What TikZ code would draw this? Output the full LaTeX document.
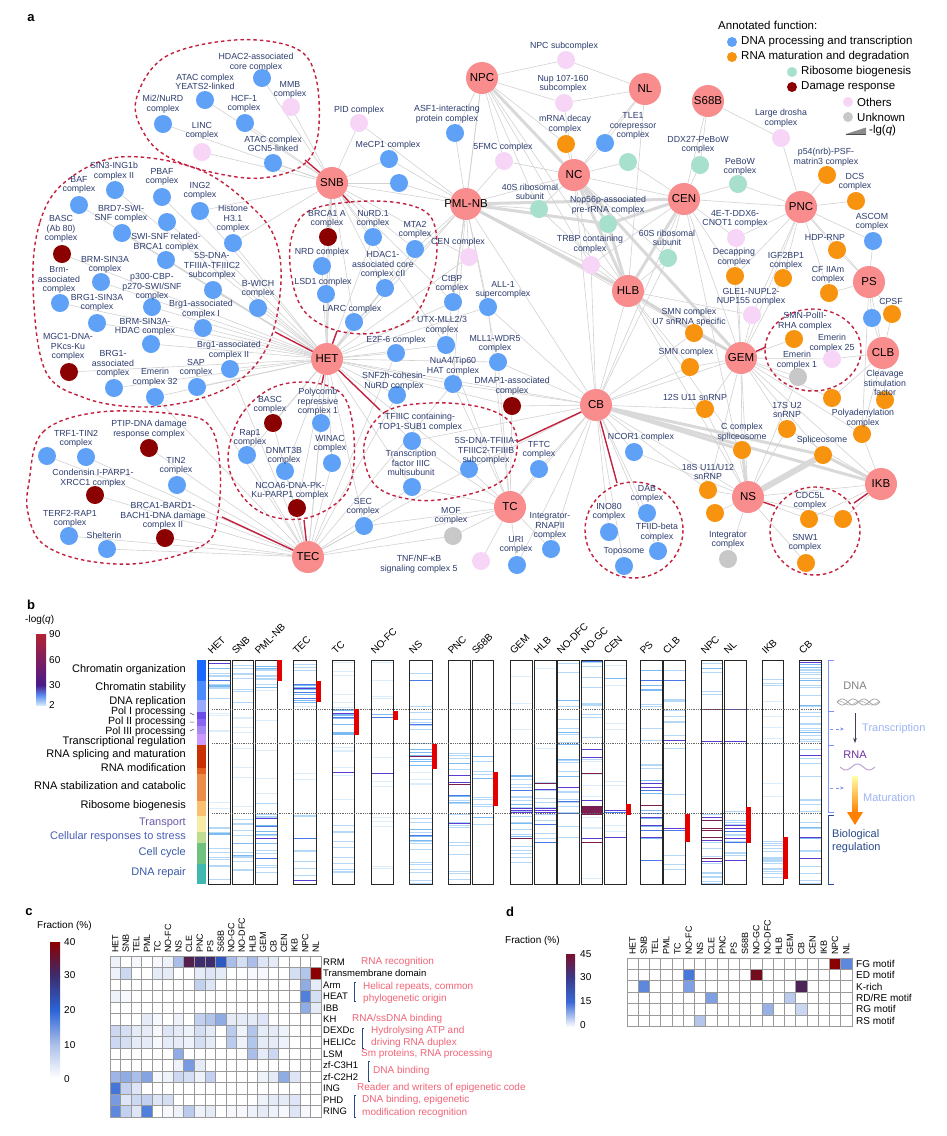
\documentclass[tikz,border=0pt]{standalone}
\usepackage{fontspec}
\setmainfont{Liberation Sans}
\usetikzlibrary{arrows.meta}
\definecolor{chub}{HTML}{F98C8C}
\definecolor{cblue}{HTML}{5EA1F7}
\definecolor{corange}{HTML}{F7930E}
\definecolor{cteal}{HTML}{A7E0CC}
\definecolor{cdred}{HTML}{8B0000}
\definecolor{cpink}{HTML}{F6D5F7}
\definecolor{cgray}{HTML}{C8C8C8}
\definecolor{clab}{HTML}{2D3C6E}
\definecolor{cedge}{HTML}{D2D2D2}
\definecolor{clink}{HTML}{C2213F}
\definecolor{hl1}{HTML}{DCEEFC}
\definecolor{hl2}{HTML}{B4D9F8}
\definecolor{hl3}{HTML}{7CBAF2}
\definecolor{hl4}{HTML}{4A78E6}
\definecolor{hp}{HTML}{5B3BD1}
\definecolor{hd}{HTML}{7A1F4F}
\definecolor{hA}{HTML}{AABEE9}
\definecolor{hB}{HTML}{2A64D6}
\definecolor{hC}{HTML}{3B2D6E}
\definecolor{hD}{HTML}{8B0000}
\definecolor{cann}{HTML}{F26477}
\definecolor{cbrk}{HTML}{2A4A8A}
\definecolor{gridc}{HTML}{9A9A9A}
\definecolor{ctr}{HTML}{9DB5F5}
\definecolor{crna}{HTML}{7030A0}
\definecolor{carr}{HTML}{4A3A5A}
\definecolor{cbr}{HTML}{B22234}
\definecolor{cbp}{HTML}{4A1A8A}
\definecolor{cbb}{HTML}{5A8AF0}
\definecolor{cbw}{HTML}{CFE8FB}
\definecolor{ctp}{HTML}{6E5AA8}
\definecolor{ccr}{HTML}{4A60B4}
\definecolor{ccc}{HTML}{3A5AA8}
\definecolor{dA}{HTML}{7A1030}
\definecolor{dB}{HTML}{3A3A8A}
\definecolor{dC}{HTML}{3A6AD8}
\pgfdeclarelayer{back}\pgfdeclarelayer{bg}\pgfdeclarelayer{mid}\pgfsetlayers{back,bg,mid,main}
\tikzset{
 sm/.style={circle,minimum size=18pt,inner sep=0pt},
 nb/.style={sm,fill=cblue}, no/.style={sm,fill=corange}, nt/.style={sm,fill=cteal},
 nr/.style={sm,fill=cdred}, np/.style={sm,fill=cpink}, ng/.style={sm,fill=cgray},
 hubc/.style={circle,minimum size=32pt,inner sep=0pt,fill=chub},
 hubt/.style={font=\fontsize{11.5}{12}\selectfont,text=black,inner sep=0pt},
 lab/.style={font=\fontsize{8.8}{9.6}\selectfont,text=clab,align=center,inner sep=0pt},
 edge/.style={draw=cedge,line width=0.6pt},
 tedge/.style={draw=black!15,line width=3pt},
 vedge/.style={draw=black!15,line width=6pt},
 link/.style={draw=clink,line width=1.4pt},
 clus/.style={draw=clink,dash pattern=on 3.5pt off 3pt,line width=1.4pt},
 blab/.style={font=\fontsize{11}{12}\selectfont,anchor=east,inner sep=0pt},
 leg/.style={font=\fontsize{11.5}{12}\selectfont,anchor=west,inner sep=0pt},
 panel/.style={font=\fontsize{13}{13}\selectfont\bfseries,inner sep=0pt},
 small/.style={font=\fontsize{10}{11}\selectfont,inner sep=0pt},
}
\newcommand\mynd[4]{\node[#4] (#1) at (#2,#3) {};}
\newcommand\mylb[4]{\node[lab] (#1l) at (#2,#3) {#4};}
\newcommand\myhub[4]{\node[hubc] (#1) at (#2,#3) {};\node[hubt] at (#2,#3) {#4};}
\newcommand\setheat[1]{%
 \pgfmathtruncatemacro\hk{min(3,floor((#1)/10))}%
 \pgfmathtruncatemacro\hq{((#1)-10*\hk)*10}%
 \ifcase\hk \colorlet{hcol}{hA!\hq!white}\or \colorlet{hcol}{hB!\hq!hA}\or \colorlet{hcol}{hC!\hq!hB}\or \colorlet{hcol}{hD!\hq!hC}\fi}
\newcommand\crow[2]{\foreach \v [count=\j from 0] in {#2} {\setheat{\v}\filldraw[fill=hcol,draw=gridc,line width=0.8pt] ({110+\j*10.55},{956+#1*11.5}) rectangle ++(10.55,11.5);}}
\newcommand\drow[2]{\foreach \v [count=\j from 0] in {#2} {\setheat{\v*40/45}\filldraw[fill=hcol,draw=gridc,line width=0.8pt] ({627+\j*11.25},{958+#1*11.4}) rectangle ++(11.25,11.4);}}
\newcommand\stp[3]{\foreach \ya/\yb/\nn/\cc in {#3}{\foreach \ii in {1,...,\nn}{\pgfmathsetmacro\yy{\ya+rnd*(\yb-\ya)}\draw[color=\cc,line width=0.9pt] (#1,\yy)--(#2,\yy);}}}
\newcommand\fxs[3]{\foreach \yy/\cc in {#3}{\draw[color=\cc,line width=1pt] (#1,\yy)--(#2,\yy);}}
\begin{document}
\begin{tikzpicture}[x=1pt,y=-1pt]
\path[use as bounding box] (0,0) rectangle (947,1136);
\begin{pgfonlayer}{back}\fill[white] (0,0) rectangle (947,1136);\end{pgfonlayer}
\pgfmathsetseed{11}
% ================= PANEL A =================
\node[panel] (pa) at (31,18) {a};
\myhub{SNB}{332}{183}{SNB}
\myhub{PML}{466}{204}{PML-NB}
\myhub{HET}{327}{359}{HET}
\myhub{TEC}{308}{557}{TEC}
\myhub{NPC}{482}{78}{NPC}
\myhub{NL}{645}{89}{NL}
\myhub{S68B}{708}{101}{S68B}
\myhub{NC}{574}{175}{NC}
\myhub{CEN}{684}{199}{CEN}
\myhub{PNC}{801}{207}{PNC}
\myhub{PS}{869}{282}{PS}
\myhub{HLB}{628}{291}{HLB}
\myhub{GEM}{741}{358}{GEM}
\myhub{CLB}{883}{353}{CLB}
\myhub{CB}{596}{405}{CB}
\myhub{TC}{510}{507}{TC}
\myhub{NS}{748}{497}{NS}
\myhub{IKB}{881}{484}{IKB}
\mynd{c1a}{262}{78}{nb}\mynd{c1b}{205}{100}{nb}\mynd{c1c}{163}{124}{nb}\mynd{c1d}{245}{123}{nb}
\mynd{c1e}{291}{107}{np}\mynd{c1f}{202}{152}{np}\mynd{c1g}{273}{163}{nb}
\mynd{PID}{359}{123}{np}\mynd{MeCP}{389}{159}{nb}\mynd{u1}{399}{183}{nb}\mynd{ASF}{455}{133}{nb}
\mynd{BAF}{79}{205}{nb}\mynd{SIN}{115}{190}{nb}\mynd{PBAF}{162}{197}{nb}\mynd{ING}{200}{211}{nb}
\mynd{u2}{167}{222}{nb}\mynd{BRD}{122}{233}{nb}\mynd{H31}{233}{243}{nb}\mynd{BA80}{62}{254}{nr}
\mynd{SWIr}{166}{260}{nb}\mynd{BRMS}{101}{282}{nb}\mynd{Brm}{60}{303}{nb}\mynd{BRGS}{97}{323}{nb}
\mynd{p300}{152}{307}{nb}\mynd{S5a}{213}{290}{nb}\mynd{BWI}{258}{308}{nb}\mynd{BgI}{203}{328}{nb}
\mynd{BRMH}{151}{344}{nb}\mynd{MGC}{69}{372}{nr}\mynd{BRGa}{114}{388}{nb}\mynd{E32}{155}{397}{nb}
\mynd{SAP}{197}{387}{nb}\mynd{BgII}{230}{369}{nb}
\mynd{BRA}{328}{237}{nr}\mynd{NuR}{373}{237}{nb}\mynd{MTA}{415}{249}{nb}\mynd{NRD}{322}{266}{nb}
\mynd{HD1}{385}{288}{nb}\mynd{LSD}{326}{294}{nb}\mynd{LARC}{354}{322}{nb}
\mynd{CENc}{469}{257}{np}\mynd{CtBP}{453}{302}{nb}\mynd{UTX}{446}{345}{nb}\mynd{E2F}{396}{353}{nb}
\mynd{NuA}{453}{384}{nb}\mynd{SNF}{397}{395}{nb}\mynd{ALL}{488}{307}{nb}\mynd{MLL}{498}{362}{nb}
\mynd{DMAP}{512}{406}{nr}
\mynd{TF3C}{412}{441}{nb}\mynd{TF3M}{412}{487}{nb}\mynd{S5b}{469}{469}{nb}
\mynd{BASC}{273}{423}{nr}\mynd{PRC}{321}{423}{nb}\mynd{Rap}{247}{455}{nb}\mynd{WIN}{332}{463}{nb}
\mynd{DNM}{285}{471}{nb}\mynd{NCO}{297}{508}{nr}
\mynd{TRF}{86}{457}{nb}\mynd{u6}{47}{456}{nb}\mynd{PTIP}{149}{448}{nr}\mynd{TIN}{177}{485}{nb}
\mynd{Cond}{95}{495}{nr}\mynd{TERF}{69}{536}{nb}\mynd{BRCB}{165}{538}{nr}\mynd{Shel}{107}{549}{nb}
\mynd{SEC}{364}{526}{nb}\mynd{MOF}{453}{536}{ng}\mynd{TNF}{481}{561}{np}
\mynd{NPCs}{566}{60}{np}\mynd{Nup}{564}{103}{np}\mynd{mRNA}{566}{144}{no}\mynd{TLE}{605}{143}{nb}
\mynd{t1}{628}{162}{nt}\mynd{FMC}{504}{161}{np}\mynd{DDX}{700}{165}{nt}\mynd{PeB}{738}{184}{nt}
\mynd{Dro}{781}{138}{np}\mynd{p54}{827}{175}{no}\mynd{DCS}{856}{201}{no}\mynd{S40}{539}{209}{nt}
\mynd{Nop}{608}{224}{nt}\mynd{ASC}{873}{241}{nb}\mynd{HDP}{837}{250}{no}\mynd{ET4}{736}{238}{np}
\mynd{S60}{668}{258}{nt}\mynd{TRBP}{591}{265}{np}\mynd{Dec}{735}{276}{no}\mynd{IGF}{783}{278}{no}
\mynd{CFII}{829}{293}{no}\mynd{GLE}{752}{315}{np}\mynd{CPSF}{892}{314}{no}\mynd{b9}{872}{318}{nb}
\mynd{SU7}{694}{333}{no}\mynd{SMP}{794}{339}{no}\mynd{E25}{832}{359}{np}\mynd{E1}{798}{377}{ng}
\mynd{CSF}{885}{400}{no}\mynd{SMN}{690}{367}{no}\mynd{S12}{705}{409}{no}\mynd{S17}{787}{429}{no}
\mynd{o1}{832}{398}{no}\mynd{PolA}{862}{434}{no}\mynd{Ccx}{742}{450}{no}\mynd{Spl}{823}{455}{no}
\mynd{NCOR}{634}{452}{nb}\mynd{TFTC}{539}{469}{nb}\mynd{S18}{708}{490}{no}\mynd{o2}{715}{513}{no}
\mynd{Int}{728}{559}{ng}\mynd{IntR}{551}{549}{nb}\mynd{URI}{517}{565}{nb}
\mynd{INO}{609}{532}{nb}\mynd{DAB}{647}{513}{nb}\mynd{TFD}{658}{551}{nb}\mynd{Topo}{624}{566}{nb}
\mynd{CDC}{809}{519}{no}\mynd{o3}{843}{519}{no}\mynd{SNW}{806}{563}{no}
% edges
\begin{pgfonlayer}{bg}
\foreach \a/\b in {PML/CEN,PML/Nop,NC/HLB,NC/GEM,CEN/HLB,CEN/Nop,CB/IKB,CB/Spl,GEM/HLB,NPC/NC,NC/Nop,IKB/Spl,Ccx/NS,CB/Ccx,HLB/Nop,PML/HLB}
 \draw[tedge] (\a)--(\b);
\draw[vedge] (NS)--(Spl);
\foreach \a/\b in {SNB/c1a,SNB/c1b,SNB/c1c,SNB/c1d,SNB/c1e,SNB/c1f,SNB/c1g,SNB/PID,SNB/MeCP,SNB/u1,SNB/PML,SNB/BRA,SNB/NuR,SNB/MTA,SNB/NRD,SNB/HD1,SNB/LSD,SNB/LARC,SNB/HET,SNB/CtBP,SNB/UTX,SNB/CENc,SNB/H31,SNB/ING,
PML/u1,PML/MeCP,PML/ASF,PML/FMC,PML/NPC,PML/NC,PML/S40,PML/CENc,PML/CtBP,PML/ALL,PML/MLL,PML/GEM,PML/CB,PML/NuA,PML/MTA,PML/HD1,PML/UTX,PML/TRBP,PML/PID,
HET/BAF,HET/SIN,HET/PBAF,HET/ING,HET/u2,HET/BRD,HET/H31,HET/BA80,HET/SWIr,HET/BRMS,HET/Brm,HET/BRGS,HET/p300,HET/S5a,HET/BWI,HET/BgI,HET/BRMH,HET/MGC,HET/BRGa,HET/E32,HET/SAP,HET/BgII,HET/BRA,HET/NuR,HET/MTA,HET/NRD,HET/HD1,HET/LSD,HET/LARC,HET/E2F,HET/SNF,HET/NuA,HET/UTX,HET/CtBP,HET/CENc,HET/MLL,HET/BASC,HET/PRC,HET/Rap,HET/WIN,HET/DNM,HET/NCO,HET/TF3C,HET/TF3M,HET/S5b,HET/SEC,HET/TEC,HET/CB,HET/DMAP,HET/PML,HET/ALL,
TEC/TRF,TEC/u6,TEC/PTIP,TEC/TIN,TEC/Cond,TEC/TERF,TEC/BRCB,TEC/Shel,TEC/BASC,TEC/PRC,TEC/Rap,TEC/WIN,TEC/DNM,TEC/NCO,TEC/SEC,TEC/MOF,TEC/TF3M,TEC/S5b,TEC/SNF,TEC/E2F,TEC/E32,TEC/SAP,TEC/BgII,TEC/TC,TEC/NuA,
TC/TFTC,TC/URI,TC/IntR,TC/TNF,TC/MOF,TC/SEC,TC/S5b,TC/TF3M,TC/MLL,TC/ALL,TC/CB,TC/NuA,TC/DMAP,TC/UTX,TC/TF3C,
CB/TFTC,CB/NCOR,CB/INO,CB/DAB,CB/TFD,CB/Topo,CB/S12,CB/NS,CB/GEM,CB/SMN,CB/DMAP,CB/MLL,CB/ALL,CB/NuA,CB/S5b,CB/TF3C,CB/TRBP,CB/S60,CB/S18,CB/URI,CB/IntR,CB/SU7,CB/NC,
NS/S17,NS/S18,NS/o2,NS/Int,NS/GEM,NS/IKB,NS/CDC,NS/SNW,NS/o3,NS/S12,NS/NCOR,NS/E1,
IKB/o3,IKB/CDC,IKB/PolA,IKB/S17,IKB/GEM,
GEM/SU7,GEM/SMN,GEM/CEN,GEM/S12,GEM/Ccx,GEM/S17,GEM/Spl,GEM/SMP,GEM/E1,GEM/E25,GEM/GLE,GEM/Dec,GEM/o1,GEM/S18,GEM/PolA,GEM/PNC,GEM/IGF,GEM/ET4,GEM/HLB,
HLB/SU7,HLB/SMN,HLB/TRBP,HLB/S60,HLB/S40,HLB/CB,HLB/NPC,HLB/NL,HLB/Ccx,HLB/NS,HLB/GLE,
NC/mRNA,NC/TLE,NC/t1,NC/S40,NC/FMC,NC/CEN,NC/TRBP,NC/S60,NC/Nup,NC/NL,
NPC/NPCs,NPC/Nup,NPC/mRNA,NPC/FMC,NPC/ASF,NPC/TRBP,NPC/S40,NPC/CtBP,
NL/NPCs,NL/Nup,NL/TLE,S68B/CEN,S68B/Dro,S68B/DDX,
CEN/DDX,CEN/PeB,CEN/S60,CEN/ET4,CEN/Dec,CEN/TRBP,CEN/t1,CEN/PNC,CEN/CB,CEN/NS,
PNC/p54,PNC/DCS,PNC/ASC,PNC/HDP,PNC/IGF,PNC/CFII,PNC/Dec,PNC/ET4,PNC/Dro,PNC/PS,PNC/PeB,PNC/GLE,
PS/ASC,PS/CFII,PS/CPSF,PS/b9,PS/CLB,PS/HDP,PS/PolA,
CLB/CPSF,CLB/b9,CLB/CSF,CLB/PolA,CLB/o1,CLB/E25}
 \draw[edge] (\a)--(\b);
\end{pgfonlayer}
\begin{pgfonlayer}{mid}
\draw[clus] plot[smooth cycle,tension=0.6] coordinates {(136,100) (165,57) (235,40) (295,48) (316,78) (318,135) (303,165) (262,178) (215,173) (170,158) (145,135)};
\draw[clus] plot[smooth cycle,tension=0.6] coordinates {(33,285) (40,222) (65,182) (120,157) (200,170) (257,212) (278,248) (280,295) (268,345) (240,380) (195,400) (140,407) (85,398) (45,370)};
\draw[clus] plot[smooth cycle,tension=0.6] coordinates {(291,240) (307,212) (350,202) (400,203) (430,216) (437,248) (430,285) (412,318) (375,333) (335,330) (305,312) (292,280)};
\draw[clus] plot[smooth cycle,tension=0.6] coordinates {(364,445) (385,412) (430,403) (480,407) (510,422) (517,450) (503,480) (462,496) (415,500) (375,485)};
\draw[clus] plot[smooth cycle,tension=0.6] coordinates {(228,458) (240,417) (268,390) (302,382) (337,390) (351,415) (354,463) (343,497) (307,518) (267,515) (240,493)};
\draw[clus] plot[smooth cycle,tension=0.6] coordinates {(29,482) (43,432) (100,412) (183,415) (211,428) (220,467) (218,513) (205,544) (143,563) (83,560) (42,543) (28,513)};
\draw[clus] (634,530) ellipse [x radius=49,y radius=48];
\draw[clus] (815,531) ellipse [x radius=45,y radius=44];
\draw[clus] (813,350) ellipse [x radius=48,y radius=41];
\end{pgfonlayer}
\coordinate (k1) at (305,160);\coordinate (k2) at (350,203);\coordinate (k3) at (275,332);
\coordinate (k4) at (337,331);\coordinate (k5) at (322,383);\coordinate (k6) at (380,410);
\coordinate (k7) at (222,517);\coordinate (k8) at (304,520);\coordinate (k9) at (517,442);
\coordinate (k10) at (617,483);\coordinate (k11) at (766,347);\coordinate (k12) at (775,506);
\coordinate (k13) at (854,503);
\foreach \h/\k in {SNB/k1,SNB/k2,HET/k3,HET/k4,HET/k5,HET/k6,TEC/k7,TEC/k8,CB/k9,CB/k10,GEM/k11,NS/k12,IKB/k13}
 \draw[link] (\h)--(\k);
% labels
\mylb{c1a}{256}{62}{HDAC2-associated\\core complex}
\mylb{c1b}{205}{82}{ATAC complex\\YEATS2-linked}
\mylb{c1c}{163}{104}{Mi2/NuRD\\complex}
\mylb{c1d}{244}{104}{HCF-1\\complex}
\mylb{c1e}{290}{90}{MMB\\complex}
\mylb{c1f}{202}{131}{LINC\\complex}
\mylb{c1g}{273}{144}{ATAC complex\\GCN5-linked}
\mylb{PID}{359}{110}{PID complex}
\mylb{MeCP}{388}{145}{MeCP1 complex}
\mylb{ASF}{447}{114}{ASF1-interacting\\protein complex}
\mylb{BAF}{79}{185}{BAF\\complex}
\mylb{SIN}{114}{171}{SIN3-ING1b\\complex II}
\mylb{PBAF}{162}{177}{PBAF\\complex}
\mylb{ING}{200}{191}{ING2\\complex}
\mylb{BRD}{121}{214}{BRD7-SWI-\\SNF complex}
\mylb{H31}{233}{219}{Histone\\H3.1\\complex}
\mylb{BA80}{61}{229}{BASC\\(Ab 80)\\complex}
\mylb{SWIr}{166}{242}{SWI-SNF related-\\BRCA1 complex}
\mylb{BRMS}{105}{265}{BRM-SIN3A\\complex}
\mylb{Brm}{59}{280}{Brm-\\associated\\complex}
\mylb{BRGS}{97}{303}{BRG1-SIN3A\\complex}
\mylb{p300}{152}{287}{p300-CBP-\\p270-SWI/SNF\\complex}
\mylb{S5a}{212}{266}{5S-DNA-\\TFIIIA-TFIIIC2\\subcomplex}
\mylb{BWI}{258}{289}{B-WICH\\complex}
\mylb{BgI}{201}{309}{Brg1-associated\\complex I}
\mylb{BRMH}{145}{327}{BRM-SIN3A-\\HDAC complex}
\mylb{MGC}{68}{347}{MGC1-DNA-\\PKcs-Ku\\complex}
\mylb{BRGa}{113}{364}{BRG1-\\associated\\complex}
\mylb{E32}{155}{377}{Emerin\\complex 32}
\mylb{SAP}{196}{368}{SAP\\complex}
\mylb{BgII}{229}{350}{Brg1-associated\\complex II}
\mylb{BRA}{327}{219}{BRCA1 A\\complex}
\mylb{NuR}{373}{219}{NuRD.1\\complex}
\mylb{MTA}{415}{230}{MTA2\\complex}
\mylb{NRD}{322}{252}{NRD complex}
\mylb{HD1}{383}{265}{HDAC1-\\associated core\\complex cII}
\mylb{LSD}{323}{282}{LSD1 complex}
\mylb{LARC}{352}{309}{LARC complex}
\mylb{CENc}{458}{242}{CEN complex}
\mylb{CtBP}{452}{284}{CtBP\\complex}
\mylb{UTX}{442}{325}{UTX-MLL2/3\\complex}
\mylb{E2F}{396}{340}{E2F-6 complex}
\mylb{NuA}{453}{366}{NuA4/Tip60\\HAT complex}
\mylb{SNF}{394}{381}{SNF2h-cohesin-\\NuRD complex}
\mylb{ALL}{503}{290}{ALL-1\\supercomplex}
\mylb{MLL}{495}{344}{MLL1-WDR5\\complex}
\mylb{DMAP}{512}{386}{DMAP1-associated\\complex}
\mylb{TF3C}{420}{422}{TFIIIC containing-\\TOP1-SUB1 complex}
\mylb{TF3M}{411}{463}{Transcription\\factor IIIC\\multisubunit}
\mylb{S5b}{486}{451}{5S-DNA-TFIIIA-\\TFIIIC2-TFIIIB\\subcomplex}
\mylb{BASC}{270}{405}{BASC\\complex}
\mylb{PRC}{318}{402}{Polycomb\\repressive\\complex 1}
\mylb{Rap}{250}{438}{Rap1\\complex}
\mylb{WIN}{330}{444}{WINAC\\complex}
\mylb{DNM}{284}{456}{DNMT3B\\complex}
\mylb{NCO}{290}{491}{NCOA6-DNA-PK-\\Ku-PARP1 complex}
\mylb{TRF}{76}{439}{TRF1-TIN2\\complex}
\mylb{PTIP}{149}{429}{PTIP-DNA damage\\response complex}
\mylb{TIN}{176}{466}{TIN2\\complex}
\mylb{Cond}{93}{478}{Condensin I-PARP1-\\XRCC1 complex}
\mylb{TERF}{70}{519}{TERF2-RAP1\\complex}
\mylb{BRCB}{163}{516}{BRCA1-BARD1-\\BACH1-DNA damage\\complex II}
\mylb{Shel}{104}{535}{Shelterin}
\mylb{SEC}{363}{507}{SEC\\complex}
\mylb{MOF}{451}{516}{MOF\\complex}
\mylb{TNF}{419}{564}{TNF/NF-κB\\signaling complex 5}
\mylb{NPCs}{564}{46}{NPC subcomplex}
\mylb{Nup}{563}{84}{Nup 107-160\\subcomplex}
\mylb{mRNA}{565}{124}{mRNA decay\\complex}
\mylb{TLE}{633}{126}{TLE1\\corepressor\\complex}
\mylb{FMC}{503}{147}{5FMC complex}
\mylb{DDX}{698}{145}{DDX27-PeBoW\\complex}
\mylb{PeB}{740}{167}{PeBoW\\complex}
\mylb{Dro}{781}{118}{Large drosha\\complex}
\mylb{p54}{826}{157}{p54(nrb)-PSF-\\matrin3 complex}
\mylb{DCS}{855}{182}{DCS\\complex}
\mylb{S40}{530}{192}{40S ribosomal\\subunit}
\mylb{Nop}{608}{205}{Nop56p-associated\\pre-rRNA complex}
\mylb{ASC}{872}{222}{ASCOM\\complex}
\mylb{HDP}{825}{237}{HDP-RNP}
\mylb{ET4}{735}{219}{4E-T-DDX6-\\CNOT1 complex}
\mylb{S60}{667}{238}{60S ribosomal\\subunit}
\mylb{TRBP}{590}{244}{TRBP containing\\complex}
\mylb{Dec}{734}{257}{Decapping\\complex}
\mylb{IGF}{786}{261}{IGF2BP1\\complex}
\mylb{CFII}{828}{275}{CF IIAm\\complex}
\mylb{GLE}{751}{297}{GLE1-NUPL2-\\NUP155 complex}
\mylb{CPSF}{891}{301}{CPSF}
\mylb{SU7}{689}{317}{SMN complex\\U7 snRNA specific}
\mylb{SMP}{805}{321}{SMN-PolII-\\RHA complex}
\mylb{E25}{832}{343}{Emerin\\complex 25}
\mylb{E1}{797}{360}{Emerin\\complex 1}
\mylb{CSF}{885}{383}{Cleavage\\stimulation\\factor}
\mylb{SMN}{686}{352}{SMN complex}
\mylb{S12}{695}{397}{12S U11 snRNP}
\mylb{S17}{787}{410}{17S U2\\snRNP}
\mylb{PolA}{863}{418}{Polyadenylation\\complex}
\mylb{Ccx}{742}{432}{C complex\\spliceosome}
\mylb{Spl}{822}{440}{Spliceosome}
\mylb{NCOR}{641}{437}{NCOR1 complex}
\mylb{TFTC}{539}{450}{TFTC\\complex}
\mylb{S18}{708}{472}{18S U11/U12\\snRNP}
\mylb{Int}{728}{540}{Integrator\\complex}
\mylb{IntR}{550}{526}{Integrator-\\RNAPII\\complex}
\mylb{URI}{516}{545}{URI\\complex}
\mylb{INO}{609}{512}{INO80\\complex}
\mylb{DAB}{647}{494}{DAB\\complex}
\mylb{TFD}{657}{532}{TFIID-beta\\complex}
\mylb{Topo}{624}{551}{Toposome}
\mylb{CDC}{810}{501}{CDC5L\\complex}
\mylb{SNW}{805}{543}{SNW1\\complex}
% legend
\node[leg] (lg0) at (718,25) {Annotated function:};
\fill[cblue] (732,42) circle (5);\node[leg] (lg1) at (741,42) {DNA processing and transcription};
\fill[corange] (732,57) circle (5);\node[leg] (lg2) at (741,57) {RNA maturation and degradation};
\fill[cteal] (792,72) circle (5);\node[leg] (lg3) at (801,72) {Ribosome biogenesis};
\fill[cdred] (792,87) circle (5);\node[leg] (lg4) at (801,87) {Damage response};
\fill[cpink] (848,102) circle (5);\node[leg] (lg5) at (857,102) {Others};
\fill[cgray] (848,117) circle (5);\node[leg] (lg6) at (857,117) {Unknown};
\fill[black!45] (846,134) -- (866,134) -- (866,127.5) -- cycle;
\draw[black!70,line width=0.9pt] (846,134)--(866,134);
\node[leg] (lg7) at (869,131) {-lg(\textit{q})};
% ================= PANEL B =================
\node[panel] (pb) at (31,605) {b};
\node[small,anchor=west] (bq) at (25,620) {-log(\textit{q})};
\shade[top color=cbr,bottom color=cbp] (36,634) rectangle (46,685);
\shade[top color=cbp,bottom color=cbb] (36,685) rectangle (46,695);
\shade[top color=cbb,bottom color=cbw] (36,695) rectangle (46,705);
\node[small,anchor=west] at (49,634) {90};
\node[small,anchor=west] at (49,660) {60};
\node[small,anchor=west] at (49,685) {30};
\node[small,anchor=west] at (49,705) {2};
\foreach \ya/\yb/\cc in {660/681/1A6AFF,681/700/4D8CFF,700/712/9CAAFF,712/719/6A4CE8,719/726/8A66F0,726/734/A88AF5,734/745/CC99FF,745/768/C83200,768/774/E06020,774/801/EC8C4A,801/816/FAC070,816/832/F6ECA4,832/843/C0DC90,843/864/70C080,864/884/40B8B0}
 {\definecolor{tmpc}{HTML}{\cc}\fill[tmpc] (197,\ya) rectangle (206,\yb);}
\node[blab] at (186,670) {Chromatin organization};
\node[blab] at (186,688) {Chromatin stability};
\node[blab] at (186,701.5) {DNA replication};
\node[blab,font=\fontsize{10.5}{11}\selectfont] at (186,711.5) {Pol I processing};
\node[blab,font=\fontsize{10.5}{11}\selectfont] at (186,721.5) {Pol II processing};
\node[blab,font=\fontsize{10.5}{11}\selectfont] at (186,731.5) {Pol III processing};
\node[blab] at (186,742) {Transcriptional regulation};
\node[blab] at (186,755) {RNA splicing and maturation};
\node[blab] at (186,768) {RNA modification};
\node[blab] at (186,786) {RNA stabilization and catabolic};
\node[blab] at (186,806) {Ribosome biogenesis};
\node[blab,text=ctp] at (186,823) {Transport};
\node[blab,text=ccr] at (186,837) {Cellular responses to stress};
\node[blab,text=ccc] at (186,853) {Cell cycle};
\node[blab,text=ccc] at (186,873) {DNA repair};
\draw[black!70,line width=0.5pt] (190,713)--(194,715) (190,722)--(194,722) (190,731)--(194,729);
\foreach \xa/\xb/\nm in {208/230/HET,232/253/SNB,255/277/PML-NB,293/316/TEC,332/354/TC,371/393/NO-FC,409/432/NS,448/470/PNC,472/493/S68B,510/532/GEM,534/556/HLB,557/579/NO-DFC,581/602/NO-GC,604/626/CEN,640/662/PS,663/685/CLB,701/722/NPC,724/746/NL,762/783/IKB,799/821/CB}
 {\fill[white] (\xa,660) rectangle (\xb,884);
  \node[rotate=45,anchor=base west,font=\fontsize{10}{11}\selectfont,inner sep=0pt] at (\xa+4,655) {\nm};}
\stp{208}{230}{662/700/9/hl2,662/700/3/hl3,700/745/4/hl1,745/815/2/hl1,815/884/10/hl2,830/884/2/hl3}
\fxs{208}{230}{663/hp,680/hl4}
\stp{232}{253}{662/712/10/hl2,712/745/5/hl1,745/815/4/hl1,815/884/12/hl2,830/884/2/hl3}
\stp{255}{277}{662/690/10/hl2,662/690/3/hl3,690/815/5/hl1,800/884/14/hl2,815/850/4/hl3}
\fxs{255}{277}{818/hp,826/hl4,838/hp,858/hl4}
\stp{293}{316}{662/680/3/hl2,681/703/8/hl3,703/815/4/hl1,815/884/9/hl2}
\fxs{293}{316}{684/hl4,688/hp,692/hl4,698/hl4,838/hl4,880/hp}
\stp{332}{354}{662/709/6/hl1,709/735/12/hl3,735/815/6/hl1,815/884/11/hl2}
\fxs{332}{354}{713/hp,717/hl4,772/hp}
\stp{371}{393}{662/709/5/hl1,720/815/4/hl1,815/884/5/hl1}
\fxs{371}{393}{714/hl3,717/hl4,773/hp}
\stp{409}{432}{662/745/8/hl2,745/769/6/hl3,769/815/4/hl1,815/884/14/hl2,820/850/3/hl3}
\fxs{409}{432}{680/hl4,724/hl4,756/hd,835/hl4}
\stp{448}{470}{740/884/18/hl2,760/835/6/hl3}
\fxs{448}{470}{775/hp,782/hp,784/hd,795/hl4,823/hp}
\stp{472}{493}{755/830/9/hl2,755/830/3/hl3}
\stp{510}{532}{662/770/3/hl1,770/870/18/hl2,775/840/5/hl3}
\fxs{510}{532}{790/hl4,808/hp,810/hp,812/hp,838/hd}
\stp{534}{556}{662/770/2/hl1,775/840/10/hl2}
\fxs{534}{556}{783/hd,789/hp,808/hp,810/hp,812/hp,824/hl4,842/hl4}
\stp{557}{579}{662/860/20/hl2,700/850/5/hl3}
\fxs{557}{579}{787/hp,801/hl4,813/hl4}
\stp{581}{602}{662/760/12/hl2,760/884/8/hl1}
\fxs{581}{602}{661/hl4,749/hp,757/hp,773/hd,800/hp,838/hp,842/hd}
\fill[hd] (581,806) rectangle (602,815);
\stp{604}{626}{662/884/8/hl1}
\fxs{604}{626}{678/hl3,810/hp,812/hl4,837/hp}
\stp{640}{662}{662/700/4/hl3,700/800/10/hl2,780/840/10/hl3}
\fxs{640}{662}{680/hl4,783/hp,787/hp,790/hl4,805/hd,817/hp,825/hp,830/hl4,837/hp,860/hl4}
\stp{663}{685}{662/700/3/hl2,700/870/14/hl2}
\fxs{663}{685}{680/hl4,740/hp,828/hp,830/hl4}
\stp{701}{722}{662/700/4/hl2,800/884/12/hl2}
\fxs{701}{722}{668/hl3,709/hd,741/hp,817/hp,820/hd,828/hd,830/hd,837/hd,840/hp,858/hd,861/hp}
\stp{724}{746}{800/860/10/hl2}
\fxs{724}{746}{709/hp,741/hp,825/hp,828/hp,831/hl4,838/hp,842/hl4,860/hp}
\stp{762}{783}{662/700/4/hl2,700/815/8/hl1,835/884/20/hl2}
\stp{799}{821}{662/884/36/hl2,662/884/8/hl3}
\fxs{799}{821}{662/hp,755/hp,837/hp,858/hp}
\foreach \xa/\xb in {208/230,232/253,255/277,293/316,332/354,371/393,409/432,448/470,472/493,510/532,534/556,557/579,581/602,604/626,640/662,663/685,701/722,724/746,762/783,799/821}
 \draw[black!85,line width=0.9pt] (\xa,660) rectangle (\xb,884);
\foreach \yy in {709,743,813} \draw[densely dotted,black!60,line width=0.8pt] (212,\yy)--(822,\yy);
\foreach \xa/\ya/\yb in {277/660/681,316/681/702,354/709/735,393/711/720,432/744/769,493/772/806,626/804/815,685/814/842,746/807/843,783/837/879}
 \fill[red!90!black] (\xa,\ya) rectangle (\xa+4.5,\yb);
\draw[color=ctr!80!blue,line width=1pt] (834,660)--(828,660)--(828,812)--(834,812) (828,711)--(834,711) (828,745)--(834,745);
\draw[color=cbrk,line width=1pt] (834,815)--(828,815)--(828,884)--(834,884);
\draw[color=ctr!80!blue,dashed,line width=0.9pt,-{Stealth[length=4pt]}] (830,729)--(844,729);
\draw[color=ctr!80!blue,dashed,line width=0.9pt,-{Stealth[length=4pt]}] (830,788)--(844,788);
\node[small,text=black!50,font=\fontsize{11}{12}\selectfont] (dna) at (855,686) {DNA};
\draw[black!35,line width=0.8pt] plot[domain=0:720,samples=50] ({837+\x*0.0597},{702-3*sin(\x)});
\draw[black!35,line width=0.8pt] plot[domain=0:720,samples=50] ({837+\x*0.0597},{702+3*sin(\x)});
\draw[black!35,line width=0.5pt] plot[domain=0:720,samples=50] ({837+\x*0.0597},{703-2*sin(\x+60)});
\draw[color=carr,line width=1pt,-{Stealth[length=5pt]}] (855,713)--(855,743);
\node[font=\fontsize{11}{12}\selectfont,text=ctr,anchor=west,inner sep=0pt] (trn) at (862,729) {Transcription};
\node[font=\fontsize{11}{12}\selectfont,text=crna,inner sep=0pt] (rna) at (855,755) {RNA};
\draw[crna!45,line width=1pt] plot[domain=0:540,samples=40] ({840+\x*0.0648},{767+3*sin(\x)});
\shade[top color=yellow!35,bottom color=orange] (852.5,776) rectangle (857.5,813);
\fill[orange] (847,812) -- (863,812) -- (855,825) -- cycle;
\node[font=\fontsize{11}{12}\selectfont,text=ctr,anchor=west,inner sep=0pt] (mat) at (863,798) {Maturation};
\node[font=\fontsize{11}{13}\selectfont,text=cbrk,anchor=north west,align=left,inner sep=0pt] (bio) at (832,829) {Biological\\regulation};
% ================= PANEL C =================
\node[panel] (pc) at (29,912) {c};
\node[small,anchor=west] (cf) at (37,926) {Fraction (\%)};
\shade[top color=hD,bottom color=hC] (50,942) rectangle (60,976);
\shade[top color=hC,bottom color=hB] (50,976) rectangle (60,1010);
\shade[top color=hB,bottom color=hA] (50,1010) rectangle (60,1044);
\shade[top color=hA,bottom color=white] (50,1044) rectangle (60,1078);
\foreach \t/\yy in {40/942,30/975,20/1010,10/1045,0/1079} \node[small,anchor=west] at (64,\yy) {\t};
\crow{0}{2,0,1,0,1,2,10,33,30,30,22,10,5,10,4,3,0,0,0,0}
\crow{1}{2,6,0,0,3,3,0,0,3,4,3,0,0,1,1,0,0,5,9,40}
\crow{2}{0,0,0,0,0,0,0,0,7,4,0,0,0,0,0,0,0,0,12,3}
\crow{3}{2,1,0,0,0,0,0,0,0,0,0,0,0,0,0,0,0,0,17,5}
\crow{4}{0,0,0,0,0,0,0,0,0,0,0,0,0,0,0,0,0,0,12,3}
\crow{5}{0,0,0,3,1,0,2,0,7,9,12,3,3,3,4,0,0,0,0,0}
\crow{6}{6,5,3,3,1,4,3,2,5,3,0,8,2,9,3,3,2,0,0,0}
\crow{7}{6,5,3,3,1,3,3,2,5,3,0,8,2,9,3,3,2,0,0,0}
\crow{8}{0,0,0,0,0,0,12,0,0,0,0,0,0,10,3,6,0,0,0,0}
\crow{9}{0,0,0,0,0,0,2,14,3,0,0,0,0,0,0,0,0,0,0,0}
\crow{10}{11,12,10,13,1,2,6,5,2,7,0,0,0,0,2,3,12,4,0,0}
\crow{11}{18,7,4,0,0,0,0,0,0,0,0,0,0,0,0,0,0,0,0,0}
\crow{12}{14,4,6,7,4,5,0,0,0,0,0,0,0,0,2,3,3,4,0,0}
\crow{13}{16,7,4,17,0,1,2,8,2,3,0,1,1,2,3,2,1,4,1,0}
\foreach \nm [count=\j from 0] in {HET,SNB,TEL,PML,TC,NO-FC,NS,CLE,PNC,PS,S68B,NO-GC,NO-DFC,HLB,GEM,CB,CEN,IKB,NPC,NL}
 {\node[rotate=90,anchor=west,font=\fontsize{9}{10}\selectfont,inner sep=0pt] at ({110+(\j+0.5)*10.55},953) {\nm};
  \node[rotate=90,anchor=west,font=\fontsize{9}{10}\selectfont,inner sep=0pt] at ({627+(\j+0.5)*11.25},955) {\nm};}
\foreach \nm [count=\j from 0] in {RRM,Transmembrane domain,Arm,HEAT,IBB,KH,DEXDc,HELICc,LSM,zf-C3H1,zf-C2H2,ING,PHD,RING}
 \node[anchor=west,font=\fontsize{9.5}{10}\selectfont,inner sep=0pt] at (323,{956+(\j+0.5)*11.5}) {\nm};
\tikzset{ann/.style={anchor=west,font=\fontsize{10}{11}\selectfont,text=cann,inner sep=0pt}}
\node[ann] at (361,962) {RNA recognition};
\node[ann] at (363,987) {Helical repeats, common};
\node[ann] at (363,999) {phylogenetic origin};
\node[ann] at (352,1019) {RNA/ssDNA binding};
\node[ann] at (371,1031) {Hydrolysing ATP and};
\node[ann] at (371,1043) {driving RNA duplex};
\node[ann] at (361,1054) {Sm proteins, RNA processing};
\node[ann] at (373,1071) {DNA binding};
\node[ann] at (357,1088) {Reader and writers of epigenetic code};
\node[ann] at (362,1100) {DNA binding, epigenetic};
\node[ann] at (362,1113) {modification recognition};
\draw[cbrk,line width=0.9pt] (356,982)--(354,982)--(354,1001)--(356,1001)
 (364,1028)--(362,1028)--(362,1048)--(364,1048)
 (370,1061)--(368,1061)--(368,1081)--(370,1081)
 (356,1095)--(354,1095)--(354,1117)--(356,1117);
% ================= PANEL D =================
\node[panel] (pd) at (510,912) {d};
\node[small,anchor=west] (df) at (505,941) {Fraction (\%)};
\shade[top color=dA,bottom color=dB] (566,954) rectangle (575,978);
\shade[top color=dB,bottom color=dC] (566,978) rectangle (575,1002);
\shade[top color=dC,bottom color=white] (566,1002) rectangle (575,1027);
\foreach \t/\yy in {45/954,30/977,15/1001,0/1025} \node[small,anchor=west] at (580,\yy) {\t};
\drow{0}{0,0,0,0,0,0,0,0,0,0,0,0,0,0,0,0,0,0,45,18}
\drow{1}{0,0,0,0,0,20,0,0,0,0,0,42,0,0,0,0,0,0,0,0}
\drow{2}{0,18,0,0,0,15,0,0,0,0,0,0,0,0,0,36,0,0,0,0}
\drow{3}{0,0,0,0,0,0,0,15,0,0,0,0,0,0,9,0,0,0,0,0}
\drow{4}{0,0,0,0,0,0,0,0,0,0,0,0,13,0,0,7,0,0,0,0}
\drow{5}{0,0,0,0,0,0,10,0,0,0,0,0,0,0,0,0,0,0,0,0}
\foreach \nm [count=\j from 0] in {FG motif,ED motif,K-rich,RD/RE motif,RG motif,RS motif}
 \node[anchor=west,font=\fontsize{10}{11}\selectfont,inner sep=0pt] at (856,{958+(\j+0.5)*11.4}) {\nm};
\end{tikzpicture}
\end{document}
